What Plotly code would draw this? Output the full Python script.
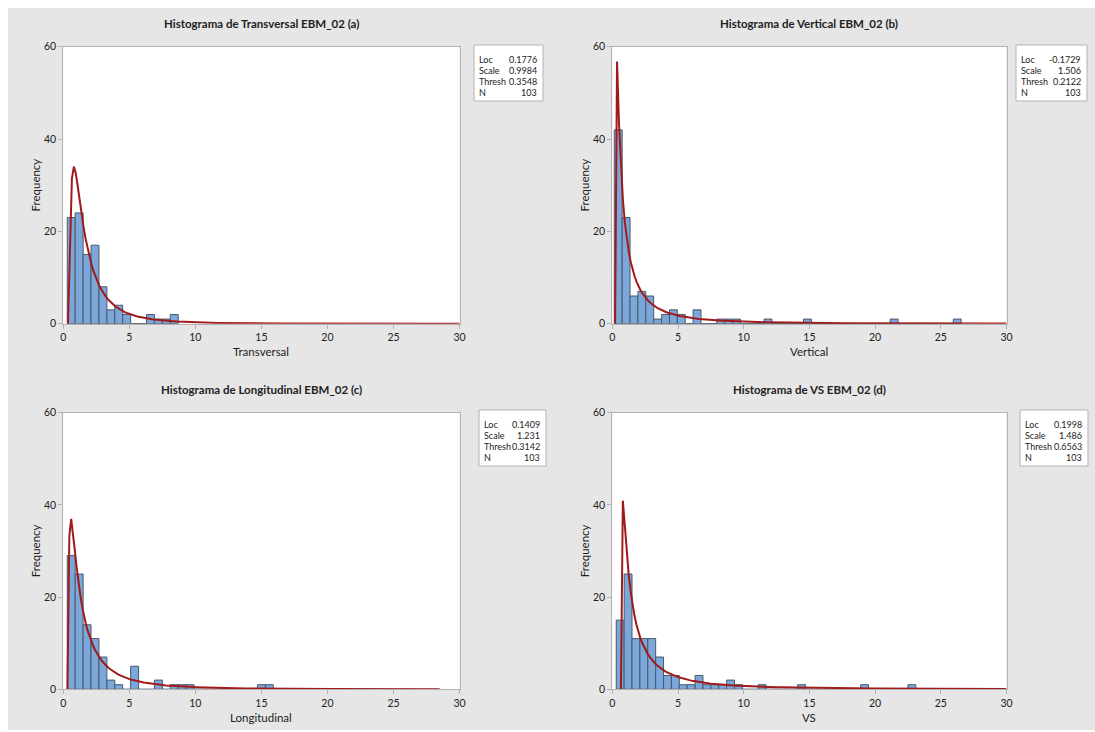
import numpy as np
import plotly.graph_objects as go

W, H = 1095, 732

# Histogram counts per panel (bin width 0.6)
bin_width = 0.6

trans_start = 0.3
trans_counts = [23, 24, 15, 17, 8, 3, 4, 2, 0, 0, 2, 1, 1, 2]

vert_start = 0.15
vert_counts = [42, 23, 6, 7, 6, 1, 2, 3, 2, 0, 3, 0, 0, 1, 1, 1, 0, 0, 0, 1,
               0, 0, 0, 0, 1, 0, 0, 0, 0, 0, 0, 0, 0, 0, 0, 1, 0, 0, 0, 0,
               0, 0, 0, 1]

long_start = 0.3
long_counts = [29, 25, 14, 11, 7, 2, 1, 0, 5, 0, 0, 2, 0, 1, 1, 1, 0, 0, 0, 0,
               0, 0, 0, 0, 1, 1]

vs_start = 0.3
vs_counts = [15, 25, 11, 11, 11, 7, 3, 3, 1, 1, 3, 1, 1, 1, 2, 1, 0, 0, 1, 0,
             0, 0, 0, 1, 0, 0, 0, 0, 0, 0, 0, 1, 0, 0, 0, 0, 0, 1]

# 3-parameter lognormal fits: (Loc, Scale, Thresh, N)
trans_fit = (0.1776, 0.9984, 0.3548, 103)
vert_fit = (-0.1729, 1.506, 0.2122, 103)
long_fit = (0.1409, 1.231, 0.3142, 103)
vs_fit = (0.1998, 1.486, 0.6563, 103)

titles = [
    "Histograma de Transversal EBM_02 (a)",
    "Histograma de Vertical EBM_02 (b)",
    "Histograma de Longitudinal EBM_02 (c)",
    "Histograma de VS EBM_02 (d)",
]
x_titles = ["Transversal", "Vertical", "Longitudinal", "VS"]
fit_labels = ["Loc", "Scale", "Thresh", "N"]
fit_texts = [
    ["0.1776", "0.9984", "0.3548", "103"],
    ["-0.1729", "1.506", "0.2122", "103"],
    ["0.1409", "1.231", "0.3142", "103"],
    ["0.1998", "1.486", "0.6563", "103"],
]
x_ticks = [0, 5, 10, 15, 20, 25, 30]
y_ticks = [0, 20, 40, 60]

panels = [
    (trans_start, trans_counts, trans_fit, 30.0),
    (vert_start, vert_counts, vert_fit, 30.0),
    (long_start, long_counts, long_fit, 28.5),
    (vs_start, vs_counts, vs_fit, 30.0),
]

# pixel layout of each plot area: (left, right, top, bottom)
areas = [
    (63.3, 459.5, 46.7, 323.7),
    (612.3, 1006.5, 46.7, 323.7),
    (63.3, 459.5, 412.7, 689.3),
    (612.3, 1006.5, 412.7, 689.3),
]
# stats boxes: (left, right, top, bottom)
boxes = [
    (474, 543, 45, 101),
    (1016, 1087, 45, 101),
    (479, 546, 410, 466),
    (1020, 1088, 410, 466),
]

BAR_FILL = "#7ba7da"
BAR_LINE = "#4a5868"
CURVE = "#a11a1a"
FRAME = "#b3b3b3"
BG = "#e6e6e6"
FONT = "Lato"


def lognorm3_pdf(x, loc, scale, thresh):
    y = np.zeros_like(x)
    m = x > thresh
    z = x[m] - thresh
    y[m] = np.exp(-(np.log(z) - loc) ** 2 / (2 * scale ** 2)) / (z * scale * np.sqrt(2 * np.pi))
    return y


fig = go.Figure()
annotations = []
shapes = [dict(type="rect", xref="paper", yref="paper",
               x0=8 / W, x1=1.0, y0=1 - 730 / H, y1=1 - 8 / H,
               fillcolor=BG, line=dict(width=0), layer="below")]
layout_axes = {}

for i, (start, counts, fit, x_end) in enumerate(panels):
    loc, scale, thresh, n = fit
    xa = "x" if i == 0 else f"x{i + 1}"
    ya = "y" if i == 0 else f"y{i + 1}"
    centers = [start + bin_width * (k + 0.5) for k in range(len(counts))]
    fig.add_trace(go.Bar(
        x=centers, y=counts, width=bin_width, xaxis=xa, yaxis=ya,
        marker=dict(color=BAR_FILL, line=dict(color=BAR_LINE, width=1)),
        showlegend=False, hoverinfo="x+y",
    ))
    xs = np.concatenate([[thresh], np.linspace(thresh, x_end, 201)[1:]])
    ys = lognorm3_pdf(xs, loc, scale, thresh) * n * bin_width
    fig.add_trace(go.Scatter(
        x=xs, y=ys, mode="lines", xaxis=xa, yaxis=ya,
        line=dict(color=CURVE, width=2), showlegend=False, hoverinfo="skip",
    ))

    left, right, top, bottom = areas[i]
    axis_common = dict(showgrid=False, zeroline=False, showline=True, mirror=True,
                       automargin=False,
                       linecolor=FRAME, linewidth=1, ticks="outside", ticklen=4,
                       tickcolor=FRAME, tickfont=dict(family=FONT, size=10.5, color="#222"))
    layout_axes["xaxis" if i == 0 else f"xaxis{i + 1}"] = dict(
        axis_common, domain=[left / W, right / W], range=[0, 30],
        tickvals=x_ticks, anchor=ya,
    )
    layout_axes["yaxis" if i == 0 else f"yaxis{i + 1}"] = dict(
        axis_common, domain=[1 - bottom / H, 1 - top / H], range=[0, 60],
        tickvals=y_ticks, anchor=xa,
    )
    shapes.append(dict(type="rect", xref="paper", yref="paper",
                       x0=left / W, x1=right / W, y0=1 - bottom / H, y1=1 - top / H,
                       fillcolor="white", line=dict(width=0), layer="below"))

    cx = (left + right) / 2
    annotations.append(dict(text=f"<b>{titles[i]}</b>", xref="paper", yref="paper",
                            x=cx / W, y=1 - (top - 23) / H, showarrow=False,
                            xanchor="center", yanchor="middle",
                            font=dict(family=FONT, size=11.5, color="#222")))
    annotations.append(dict(text=x_titles[i], xref="paper", yref="paper",
                            x=cx / W, y=1 - (bottom + 28) / H, showarrow=False,
                            xanchor="center", yanchor="middle",
                            font=dict(family=FONT, size=11.5, color="#222")))
    annotations.append(dict(text="Frequency", xref="paper", yref="paper",
                            x=(left - 28) / W, y=1 - (top + bottom) / 2 / H,
                            showarrow=False, textangle=-90,
                            xanchor="center", yanchor="middle",
                            font=dict(family=FONT, size=11.5, color="#222")))

    bl, br, bt, bb = boxes[i]
    shapes.append(dict(type="rect", xref="paper", yref="paper",
                       x0=bl / W, x1=br / W, y0=1 - bb / H, y1=1 - bt / H,
                       fillcolor="white", line=dict(color=FRAME, width=1)))
    for r, (lab, val) in enumerate(zip(fit_labels, fit_texts[i])):
        yy = 1 - (bt + 14 + 11.2 * r) / H
        annotations.append(dict(text=lab, xref="paper", yref="paper",
                                x=(bl + 3) / W, y=yy, showarrow=False,
                                xanchor="left", yanchor="middle",
                                font=dict(family=FONT, size=9, color="#222")))
        annotations.append(dict(text=val, xref="paper", yref="paper",
                                x=(br - 4) / W, y=yy, showarrow=False,
                                xanchor="right", yanchor="middle",
                                font=dict(family=FONT, size=9, color="#222")))

fig.update_layout(
    width=W, height=H,
    margin=dict(l=0, r=0, t=0, b=0, pad=0, autoexpand=False),
    paper_bgcolor="white", plot_bgcolor="rgba(0,0,0,0)",
    shapes=shapes, annotations=annotations, barmode="overlay",
    **layout_axes,
)

fig.write_html("out.html")
